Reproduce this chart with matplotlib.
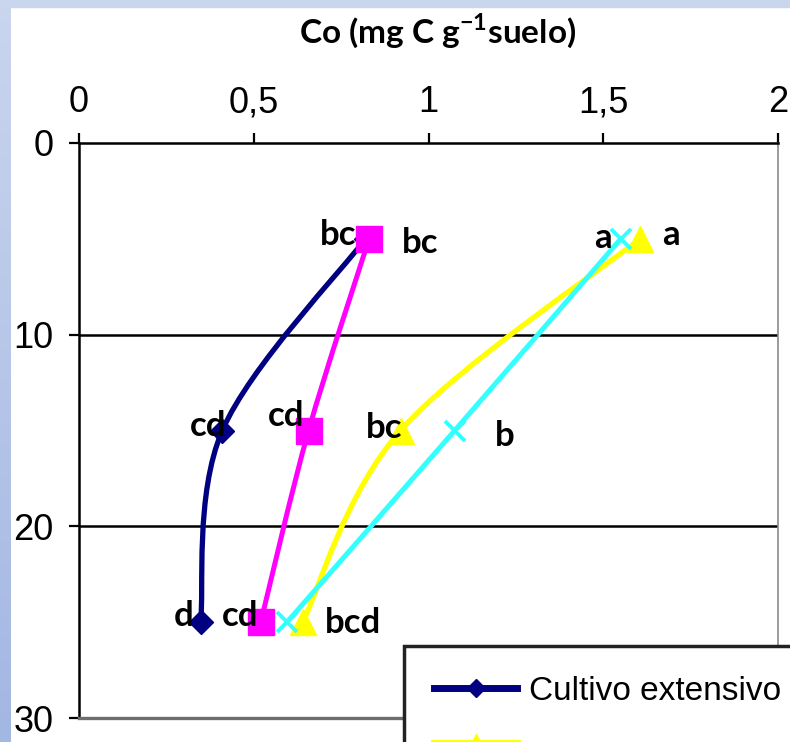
import matplotlib.pyplot as plt
import numpy as np
from matplotlib.path import Path
from matplotlib.patches import PathPatch, Rectangle
from matplotlib.lines import Line2D
from matplotlib.colors import LinearSegmentedColormap

# depth (cm) and Co values
depth = [5, 15, 25]
co_extensivo = [0.82, 0.41, 0.348]
co_magenta = [0.83, 0.657, 0.52]
co_yellow = [1.605, 0.92, 0.64]
co_cyan = [1.55, 1.075, 0.595]

# letters of significance next to each point
lab_extensivo = ['bc', 'cd', 'd']
lab_magenta = ['bc', 'cd', 'cd']
lab_yellow = ['a', 'bc', 'bcd']
lab_cyan = ['a', 'b', '']

xticks = [0, 0.5, 1, 1.5, 2]
xticklabels = ['0', '0,5', '1', '1,5', '2']
yticks = [0, 10, 20, 30]

plt.rcParams['font.family'] = ['Liberation Sans', 'DejaVu Sans']
plt.rcParams['mathtext.fontset'] = 'custom'
plt.rcParams['mathtext.rm'] = 'Lato'
plt.rcParams['mathtext.bf'] = 'Lato:bold'

fig = plt.figure(figsize=(7.9, 7.42), dpi=100)

# slide-like blue frame on the left and top
grad = np.linspace(0, 1, 100).reshape(-1, 1)
bg = fig.add_axes([0, 0, 11 / 790, 1])
bg.imshow(grad, aspect='auto', extent=[0, 1, 0, 1],
          cmap=LinearSegmentedColormap.from_list('b', ['#cad5ee', '#a3b7e3']))
bg.axis('off')
fig.patches.append(Rectangle((0, 1 - 7 / 742), 1, 7 / 742, transform=fig.transFigure,
                             color='#cad5ee', zorder=0))

ax = fig.add_axes([79 / 790, 1 - 718 / 742, 699 / 790, 575 / 742])


def smooth(ax, x, y, color, lw):
    # Excel-style smoothed line: cubic bezier through the points
    pts = np.column_stack([x, y])
    verts = [pts[0]]
    codes = [Path.MOVETO]
    n = len(pts)
    for i in range(n - 1):
        p0 = pts[max(i - 1, 0)]
        p1 = pts[i]
        p2 = pts[i + 1]
        p3 = pts[min(i + 2, n - 1)]
        verts += [p1 + (p2 - p0) / 6, p2 - (p3 - p1) / 6, p2]
        codes += [Path.CURVE4] * 3
    ax.add_patch(PathPatch(Path(verts, codes), fc='none', ec=color, lw=lw,
                           capstyle='round', zorder=3))


navy, mag, yel, cyn = '#000080', '#ff00ff', '#ffff00', '#33ffff'
smooth(ax, co_extensivo, depth, navy, 3.8)
smooth(ax, co_magenta, depth, mag, 3.6)
smooth(ax, co_yellow, depth, yel, 3.8)
smooth(ax, co_cyan, depth, cyn, 3.6)

ax.plot(co_extensivo, depth, ls='none', marker='D', ms=12, color=navy, zorder=4)
ax.plot(co_magenta, depth, ls='none', marker='s', ms=19, color=mag, zorder=4)
ax.plot(co_yellow, depth, ls='none', marker='^', ms=19, color=yel, zorder=4)
ax.plot(co_cyan, depth, ls='none', marker='x', ms=14, mew=2.8, color=cyn, zorder=5)

# point labels, offsets in pixels (right, down) from the point
offsets = {
    'ext': [(-46, 6), (-32, 5), (-27, 4)],
    'mag': [(33, 14), (-41, -5), (-39, 4)],
    'yel': [(22, 6), (-35, 8), (22, 11)],
    'cyn': [(-27, 9), (40, 15), (0, 0)],
}
for key, xs, labs in [('ext', co_extensivo, lab_extensivo), ('mag', co_magenta, lab_magenta),
                      ('yel', co_yellow, lab_yellow), ('cyn', co_cyan, lab_cyan)]:
    for xv, yv, lab, (dx, dy) in zip(xs, depth, labs, offsets[key]):
        ax.annotate(lab, (xv, yv), xytext=(dx * 0.72, -dy * 0.72), textcoords='offset points',
                    ha='left', va='baseline', fontsize=25, fontweight='bold',
                    family=['Lato', 'DejaVu Sans'], zorder=6)

ax.set_xlim(0, 2)
ax.set_ylim(30, 0)
ax.xaxis.tick_top()
ax.set_xticks(xticks, labels=xticklabels)
ax.set_yticks(yticks)
ax.tick_params(axis='both', labelsize=26, length=7.5, width=1.6, color='black')
ax.tick_params(axis='x', pad=9)
ax.tick_params(axis='y', pad=11)

fig.text(438 / 790, 1 - 43 / 742, 'Co (mg C g$^{\\mathbf{-1}}$suelo)', ha='center',
         va='baseline', fontsize=24, fontweight='bold', family=['Lato', 'DejaVu Sans'])

for y in [10, 20]:
    ax.axhline(y, color='black', lw=1.8, zorder=1)
ax.spines['left'].set_linewidth(1.8)
ax.spines['top'].set_linewidth(1.8)
ax.spines['bottom'].set_linewidth(2.4)
ax.spines['bottom'].set_color('#6e6e6e')
ax.spines['right'].set_linewidth(1.2)
ax.spines['right'].set_color('#8a8a8a')

h1 = Line2D([], [], color=navy, lw=5, marker='D', ms=9)
h2 = Line2D([], [], color=yel, lw=5, marker='^', ms=13)
leg = fig.legend([h1, h2], ['Cultivo extensivo', ' '], loc='upper left',
                 bbox_to_anchor=(404 / 790, 1 - 646 / 742), fontsize=24,
                 frameon=True, fancybox=False, edgecolor='#222222', framealpha=1,
                 handlelength=2.5, handletextpad=0.35, borderpad=0.9,
                 labelspacing=0.7, borderaxespad=0)
leg.get_frame().set_linewidth(2.5)

plt.savefig('out.png', dpi=100)
plt.close('all')
